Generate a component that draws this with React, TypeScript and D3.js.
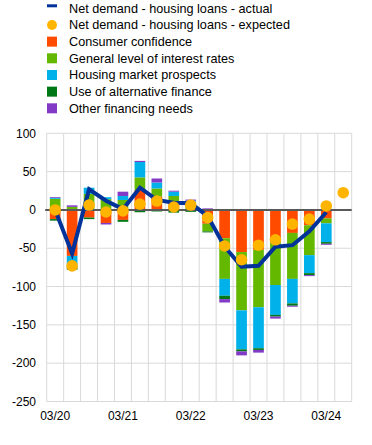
import * as d3 from "d3";

const categories = [
  "03/20", "06/20", "09/20", "12/20", "03/21", "06/21", "09/21", "12/21", "03/22",
  "06/22", "09/22", "12/22", "03/23", "06/23", "09/23", "12/23", "03/24", "06/24",
];
const tickLabels = ["03/20", "03/21", "03/22", "03/23", "03/24"];
const yTicks = [100, 50, 0, -50, -100, -150, -200, -250];

const consumerConfidence = [-12, -60, -10, -17, -13, 26, 17.5, 10.7, 0, -18, -37, -55, -52, -39, -30, -20, -11];
const interestRates = [14.5, 4, 21, 14, 13, 16.5, 10.5, 7.5, 11, -10, -53, -76, -75, -59, -60, -39, -6.5];
const housingProspects = [1.3, -14, 8, 2.6, 5.2, 20, 7.8, 5.6, 1, 0, -22, -51, -53.5, -39, -32, -23.5, -24.5];
const alternativeFinance = [-2, -4, -2, 0, -2.5, -3, -2, -3.5, -2.5, -1.3, -4.4, -2.6, -2.2, -2.2, -3, -2.6, -2.2];
const otherNeeds = [1, 2, 0, -2, 5.6, 1.5, 5.2, 1.3, 1.5, 2, -4.4, -5.2, -3.5, -2.6, -1.3, -1.3, -1.3];

const actual = [0, -57, 27, 12, 1, 29, 13, 9.4, 8.6, -8, -48, -74, -73, -48, -46, -28, -3];
const expected = [0, -73, 6.4, -2.7, -1.2, 7.7, 11.6, 3.8, 6.4, -10, -47, -65, -46, -39, -18.4, -12, 5.2, 22.5];

const series = [
  { key: "cc", name: "Consumer confidence", color: "#ff4b00", values: consumerConfidence },
  { key: "ir", name: "General level of interest rates", color: "#65b800", values: interestRates },
  { key: "hm", name: "Housing market prospects", color: "#00b1ea", values: housingProspects },
  { key: "af", name: "Use of alternative finance", color: "#007816", values: alternativeFinance },
  { key: "on", name: "Other financing needs", color: "#8139c6", values: otherNeeds },
];

const lineColor = "#003299";
const dotColor = "#ffb400";
const font = "Arial, 'Liberation Sans', sans-serif";

export default function App() {
  const width = 372;
  const height = 445;
  const left = 46.7;
  const right = 351.7;

  const x = d3.scaleBand<string>().domain(categories).range([left, right]).paddingInner(0.37).paddingOuter(0.185);
  const y = d3.scaleLinear().domain([-250, 100]).range([401.5, 133.3]);
  const center = (c: string) => (x(c) ?? 0) + x.bandwidth() / 2;
  const step = x.step();

  // rows for the stack, one per quarter that has bars
  const rows = actual.map((_, i) => {
    const r: Record<string, number> = {};
    series.forEach((s) => (r[s.key] = s.values[i]));
    return r;
  });
  const stacked = d3
    .stack<Record<string, number>>()
    .keys(series.map((s) => s.key))
    .offset(d3.stackOffsetDiverging)(rows);

  const line = d3
    .line<number>()
    .x((_, i) => center(categories[i]))
    .y((d) => y(d));

  const legend = [
    { name: "Net demand - housing loans - actual", type: "line", color: lineColor },
    { name: "Net demand - housing loans - expected", type: "dot", color: dotColor },
    ...series.map((s) => ({ name: s.name, type: "rect", color: s.color })),
  ];

  const gridX = d3.range(categories.length + 1).map((i) => left + i * step);

  return (
    <svg width={width} height={height} style={{ position: "absolute", left: 0, top: 0 }} fontFamily={font}>
      <rect width={width} height={height} fill="#fff" />
      {legend.map((l, i) => {
        const cy = 8.3 + i * 16.67;
        return (
          <g key={l.name}>
            {l.type === "line" && <rect x={47} y={cy - 4} width={10} height={3} fill={l.color} />}
            {l.type === "dot" && <circle cx={52} cy={cy} r={5} fill={l.color} />}
            {l.type === "rect" && <rect x={47} y={cy - 5} width={10} height={10} fill={l.color} />}
            <text x={69} y={cy} dy="0.35em" fontSize={12.67} fill="#000">
              {l.name}
            </text>
          </g>
        );
      })}

      {yTicks.map((t) => (
        <g key={t}>
          {t !== 0 && <line x1={left} x2={right} y1={y(t)} y2={y(t)} stroke="#d9d9d9" strokeWidth={1} />}
          <text x={36} y={y(t)} dy="0.35em" textAnchor="end" fontSize={12} fill="#000">
            {t}
          </text>
        </g>
      ))}
      {gridX.map((gx, i) => (
        <line key={i} x1={gx} x2={gx} y1={y(100)} y2={y(-250)} stroke="#d9d9d9" strokeWidth={1} />
      ))}

      {stacked.map((layer, li) => (
        <g key={layer.key} fill={series[li].color}>
          {layer.map((d, i) => (
            <rect
              key={i}
              x={x(categories[i])}
              width={x.bandwidth()}
              y={y(Math.max(d[0], d[1]))}
              height={Math.abs(y(d[0]) - y(d[1]))}
            />
          ))}
        </g>
      ))}

      <line x1={left - 1.5} x2={right} y1={y(0)} y2={y(0)} stroke="#595959" strokeWidth={2} />

      <path d={line(actual) ?? ""} fill="none" stroke={lineColor} strokeWidth={4} strokeLinejoin="miter" />

      {expected.map((v, i) => (
        <circle key={i} cx={center(categories[i])} cy={y(v)} r={5.8} fill={dotColor} />
      ))}

      {tickLabels.map((t) => (
        <text key={t} x={center(t)} y={420} textAnchor="middle" fontSize={12} fill="#000">
          {t}
        </text>
      ))}
    </svg>
  );
}
